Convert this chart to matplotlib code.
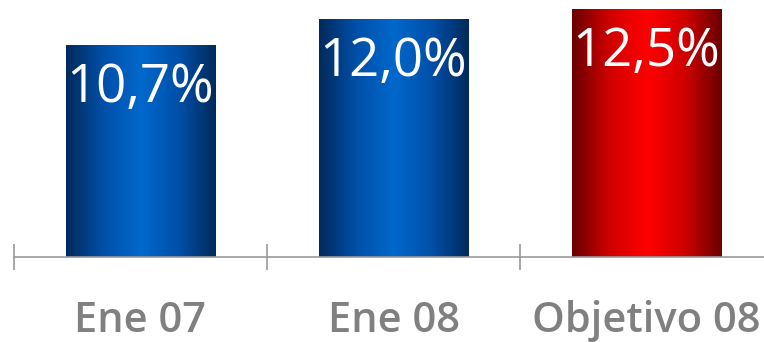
import numpy as np
import matplotlib
matplotlib.use("Agg")
import matplotlib.pyplot as plt
from matplotlib.colors import LinearSegmentedColormap

categories = ["Ene 07", "Ene 08", "Objetivo 08"]
values = [10.7, 12.0, 12.5]
labels = ["10,7%", "12,0%", "12,5%"]
bar_colors = ["blue", "blue", "red"]

W, H = 764, 342
fig = plt.figure(figsize=(W / 100, H / 100), dpi=100)
ax = fig.add_axes([14 / W, 85 / H, 1 - 14 / W, 257 / H])
ax.set_xlim(-0.5, -0.5 + 750 / 253)
ax.set_ylim(0, 257 / 19.85)

cmaps = {
    "blue": LinearSegmentedColormap.from_list("b", ["#002a5c", "#0050a8", "#0068cc", "#0050a8", "#002a5c"]),
    "red": LinearSegmentedColormap.from_list("r", ["#6a0000", "#d00000", "#ff0000", "#d00000", "#6a0000"]),
}

x = np.arange(len(categories))
bars = ax.bar(x, values, width=0.59, color="none", edgecolor="none", zorder=2)
grad = np.linspace(0, 1, 256).reshape(1, -1)
for b, c in zip(bars, bar_colors):
    x0, w, h = b.get_x(), b.get_width(), b.get_height()
    im = ax.imshow(grad, cmap=cmaps[c], aspect="auto", extent=(x0, x0 + w, 0, h), zorder=2)
    im.set_clip_path(b)

for xi, v, lab in zip(x, values, labels):
    ax.text(xi, v - 2.2, lab, ha="center", va="center", color="white",
            fontsize=38, family="Open Sans", zorder=3)

for xi, cat in zip(x, categories):
    ax.text(xi, -3.2, cat, ha="center", va="center", color="#808080",
            fontsize=30, family="Open Sans", fontweight="semibold", clip_on=False)

for s in ["top", "right", "left"]:
    ax.spines[s].set_visible(False)
ax.spines["bottom"].set_color("#999999")
ax.spines["bottom"].set_linewidth(1.2)
ax.set_yticks([])
ax.set_xticks([-0.5, 0.5, 1.5])
ax.set_xticklabels([])
ax.tick_params(axis="x", direction="inout", length=19, width=1.2, color="#999999")

fig.savefig("out.png", dpi=100)
